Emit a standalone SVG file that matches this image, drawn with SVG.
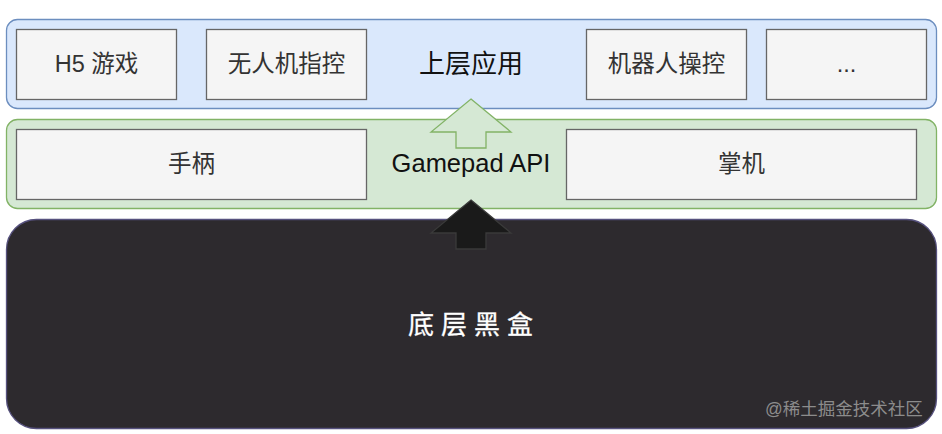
<svg xmlns="http://www.w3.org/2000/svg" width="942" height="434" viewBox="0 0 942 434">
<style>
text{font-family:"Liberation Sans","Noto Sans CJK SC",sans-serif;text-anchor:middle;}
.box{fill:#f5f5f5;stroke:#666666;stroke-width:1.3;}
.bt{font-size:23.5px;fill:#333333;}
</style>
<rect width="942" height="434" fill="#ffffff"/>
<g id="layer-app">
<rect x="6.5" y="19.5" width="930" height="89" rx="11" fill="#dae8fc" stroke="#6c8ebf" stroke-width="1.3"/>
<text x="471" y="73" font-size="26" fill="#111111">上层应用</text>
</g>
<g id="layer-api">
<rect x="6.5" y="119.5" width="930" height="89" rx="11" fill="#d5e8d4" stroke="#82b366" stroke-width="1.3"/>
<text x="471" y="172" font-size="25.5" fill="#111111">Gamepad API</text>
</g>
<g id="node-h5"><rect class="box" x="16.5" y="29.5" width="160" height="70"/><text class="bt" x="96.5" y="72">H5 游戏</text></g>
<g id="node-drone"><rect class="box" x="206.5" y="29.5" width="160" height="70"/><text class="bt" x="286.5" y="72">无人机指控</text></g>
<g id="node-robot"><rect class="box" x="586.5" y="29.5" width="160" height="70"/><text class="bt" x="666.5" y="72">机器人操控</text></g>
<g id="node-more"><rect class="box" x="766.5" y="29.5" width="160" height="70"/><text class="bt" x="846.5" y="72">...</text></g>
<g id="node-gamepad"><rect class="box" x="16.5" y="129.5" width="350" height="70"/><text class="bt" x="191.5" y="172">手柄</text></g>
<g id="node-handheld"><rect class="box" x="566.5" y="129.5" width="350" height="70"/><text class="bt" x="741.5" y="172">掌机</text></g>
<g id="node-blackbox">
<rect x="6.5" y="219.5" width="930" height="209" rx="30" fill="#2d2a2e" stroke="#56517e" stroke-width="1.3"/>
<text x="474" y="334" font-size="26" fill="#ffffff" letter-spacing="7" stroke="#ffffff" stroke-width="0.3">底层黑盒</text>
<text x="844" y="415" font-size="17.5" fill="#8c8c8c">@稀土掘金技术社区</text>
</g>
<g id="connectors">
<path d="M471 99 L511 132 L486 132 L486 148 L456 148 L456 132 L431 132 Z" fill="#d5e8d4" stroke="#82b366" stroke-width="1.3" stroke-linejoin="miter"/>
<path d="M471 200 L511 233 L486 233 L486 249 L456 249 L456 233 L431 233 Z" fill="#1a1a1a" stroke="#3a3a3a" stroke-width="1.3"/>
</g>
</svg>
